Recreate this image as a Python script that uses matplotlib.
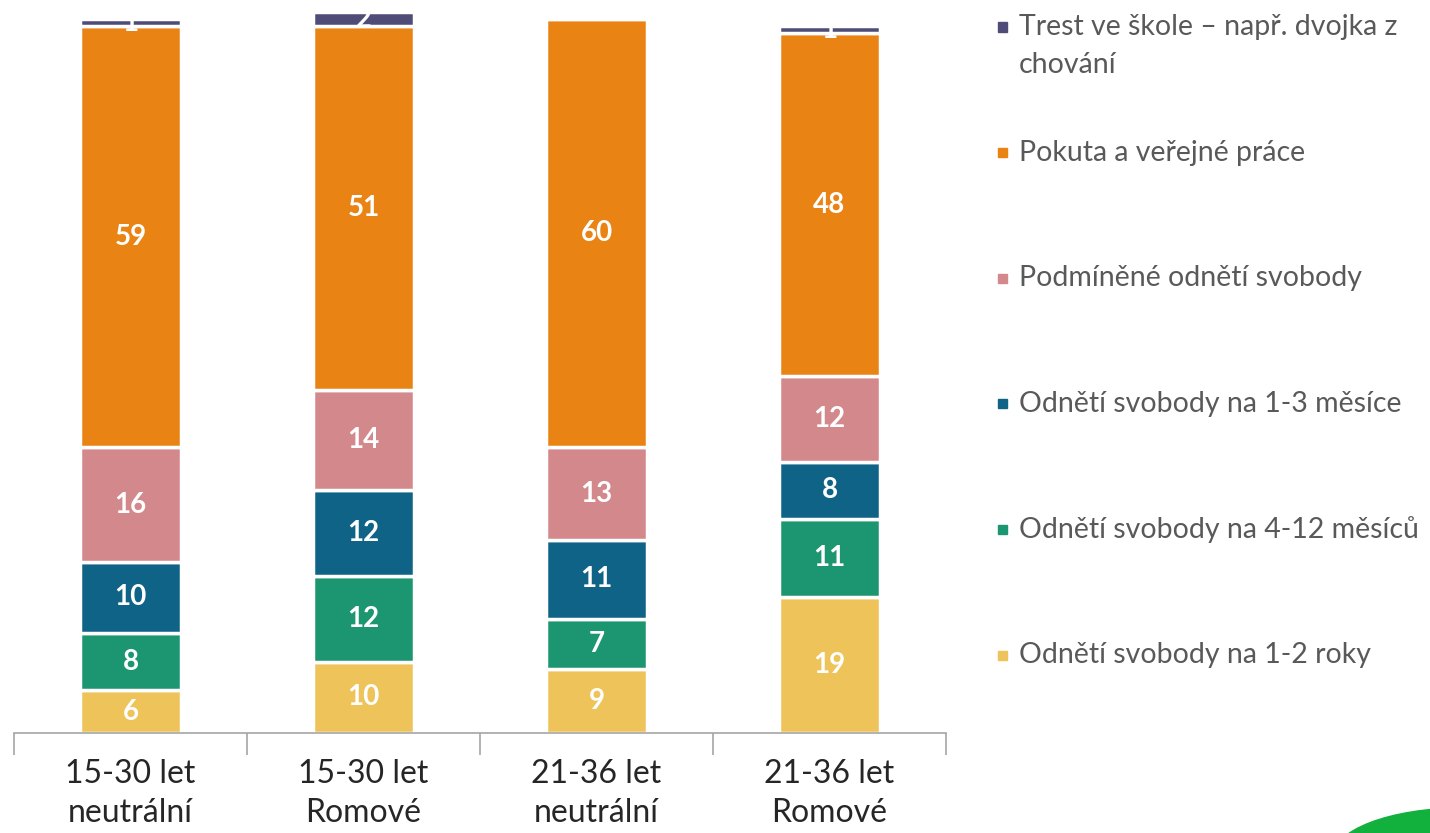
import matplotlib
matplotlib.use("Agg")
import matplotlib.pyplot as plt
from matplotlib.patches import Ellipse, Rectangle
import numpy as np

plt.rcParams['font.family'] = ['Lato', 'DejaVu Sans']

categories = ["15-30 let\nneutrální", "15-30 let\nRomové", "21-36 let\nneutrální", "21-36 let\nRomové"]

# bottom -> top
series_names = [
    "Odnětí svobody na 1-2 roky",
    "Odnětí svobody na 4-12 měsíců",
    "Odnětí svobody na 1-3 měsíce",
    "Podmíněné odnětí svobody",
    "Pokuta a veřejné práce",
    "Trest ve škole – např. dvojka z\nchování",
]
rok_1_2 = [6, 10, 9, 19]
mes_4_12 = [8, 12, 7, 11]
mes_1_3 = [10, 12, 11, 8]
podminene = [16, 14, 13, 12]
pokuta = [59, 51, 60, 48]
trest_skola = [1, 2, 0, 1]
series = [rok_1_2, mes_4_12, mes_1_3, podminene, pokuta, trest_skola]
colors = ['#EEC359', '#1C9670', '#0F6386', '#D3888C', '#E98313', '#4F4D78']

fig = plt.figure(figsize=(14.3, 8.33), dpi=100)
ax = fig.add_axes([14 / 1430, 100 / 833, 932 / 1430, 714 / 833])

x = np.arange(len(categories))
bottom = np.zeros(len(categories))
for vals, col in zip(series, colors):
    vals = np.array(vals, dtype=float)
    ax.bar(x, vals, 0.43, bottom=bottom, color=col, edgecolor='white',
           linewidth=2.5, clip_on=False)
    for xi, v, b in zip(x, vals, bottom):
        if v > 0:
            ax.text(xi, b + v / 2, f"{int(v)}", ha='center', va='center',
                    color='white', fontsize=20, fontweight='bold', clip_on=False)
    bottom += vals

ax.set_xlim(-0.5, len(categories) - 0.5)
ax.set_ylim(0, 100)
for s in ['top', 'right', 'left']:
    ax.spines[s].set_visible(False)
ax.spines['bottom'].set_color('#A6A6A6')
ax.spines['bottom'].set_linewidth(1.2)
ax.set_yticks([])
ax.set_xticks(np.arange(len(categories) + 1) - 0.5)
ax.set_xticklabels([])
ax.tick_params(axis='x', length=16, color='#A6A6A6', width=1.2)
for xi, lab in zip(x, categories):
    ax.text(xi, -0.036, lab, transform=ax.get_xaxis_transform(), ha='center',
            va='top', fontsize=23, color='#262626', linespacing=1.4)

# legend, top series first
H = 833
for i, (name, col) in enumerate(zip(series_names[::-1], colors[::-1])):
    yc = 27 + i * 125.6
    fig.patches.append(Rectangle(((1002 - 4.5) / 1430, (H - yc - 4.5) / H), 9 / 1430, 9 / H,
                                 transform=fig.transFigure, color=col))
    for j, line in enumerate(name.split("\n")):
        fig.text(1019 / 1430, (H - yc - 38 * j) / H, line, ha='left', va='center',
                 fontsize=20.5, color='#595959')

# corner logo fragment
logo = Ellipse((14.62, -0.25), 2.6, 1.0, transform=fig.dpi_scale_trans,
               color='#12B03C', clip_on=False)
fig.patches.append(logo)

fig.savefig("out.png", dpi=100)
